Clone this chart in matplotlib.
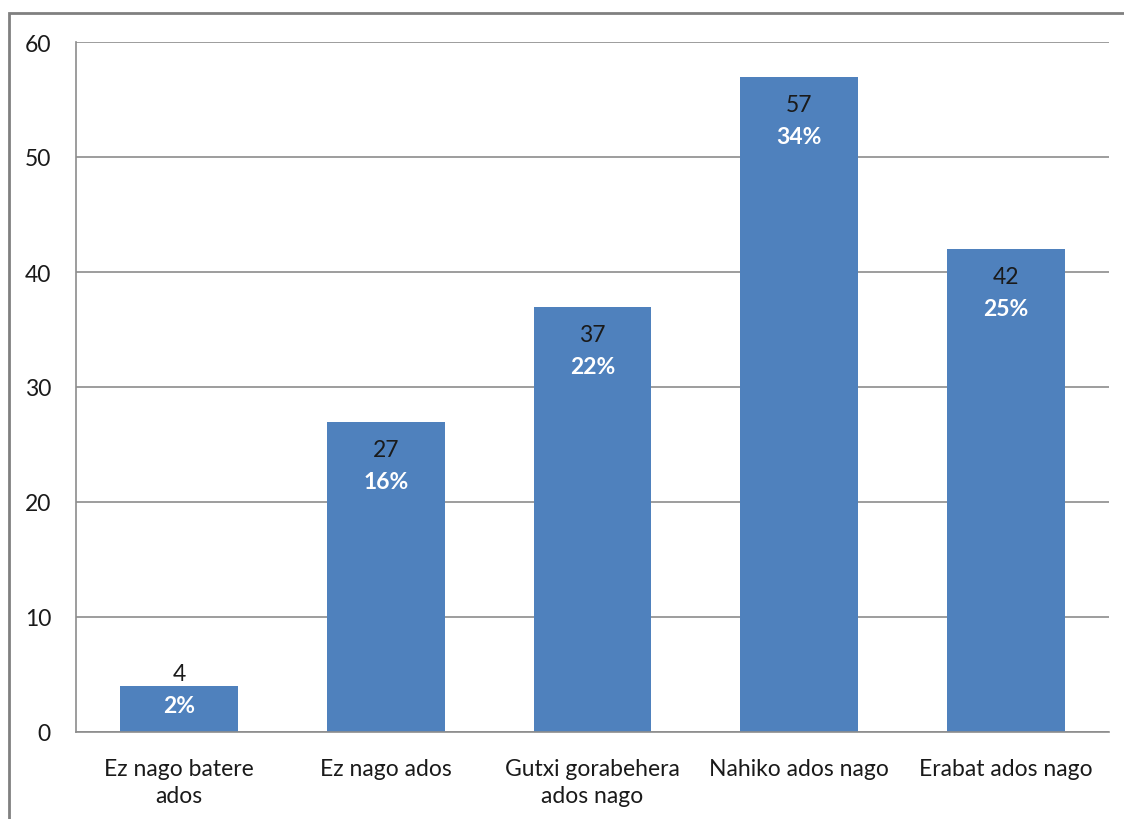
import matplotlib
matplotlib.use("Agg")
import matplotlib.pyplot as plt
from matplotlib.patches import Rectangle

categories = ["Ez nago batere\nados", "Ez nago ados", "Gutxi gorabehera\nados nago",
              "Nahiko ados nago", "Erabat ados nago"]
values = [4, 27, 37, 57, 42]
percents = ["2%", "16%", "22%", "34%", "25%"]
yticks = [0, 10, 20, 30, 40, 50, 60]

plt.rcParams['font.family'] = ['Lato', 'DejaVu Sans']

W, H, DPI = 1124, 820, 100
fig = plt.figure(figsize=(W / DPI, H / DPI), dpi=DPI)
ax = fig.add_axes([76 / W, 1 - 733 / H, (1109 - 76) / W, (733 - 43) / H])

FS = 16.5
x = list(range(len(values)))
ax.bar(x, values, width=0.57, color="#4F81BD", zorder=2)
ax.set_xlim(-0.5, len(values) - 0.5)
ax.set_ylim(0, 60)
ax.set_yticks(yticks)
ax.set_xticks(x)
ax.set_xticklabels(categories, fontsize=FS, color="#1a1a1a", linespacing=1.32)
ax.tick_params(axis="y", length=0, pad=18, labelsize=FS, labelcolor="#1a1a1a")
ax.tick_params(axis="x", length=0, pad=19)

ax.grid(axis="y", color="#8c8c8c", linewidth=1.2, zorder=0)
for s in ["top", "right"]:
    ax.spines[s].set_visible(False)
for s in ["left", "bottom"]:
    ax.spines[s].set_color("#8c8c8c")
    ax.spines[s].set_linewidth(1.2)

px_per_unit = (733 - 43) / 60.0
for xi, v, p in zip(x, values, percents):
    top_px = v * px_per_unit
    val_off = top_px - 28
    pct_off = top_px - 60
    if pct_off < 26:
        shift = 26 - pct_off
        val_off += shift
        pct_off += shift
    ax.text(xi, val_off / px_per_unit, str(v), ha="center", va="center",
            fontsize=FS, color="#1a1a1a", zorder=3)
    ax.text(xi, pct_off / px_per_unit, p, ha="center", va="center",
            fontsize=FS, color="white", fontweight="bold", zorder=3)

fig.patches.append(Rectangle((9 / W, -0.05), 1.2, 1 - 14 / H + 0.05,
                             transform=fig.transFigure, fill=False,
                             edgecolor="#808080", linewidth=2.0))

fig.savefig("out.png", dpi=DPI)
